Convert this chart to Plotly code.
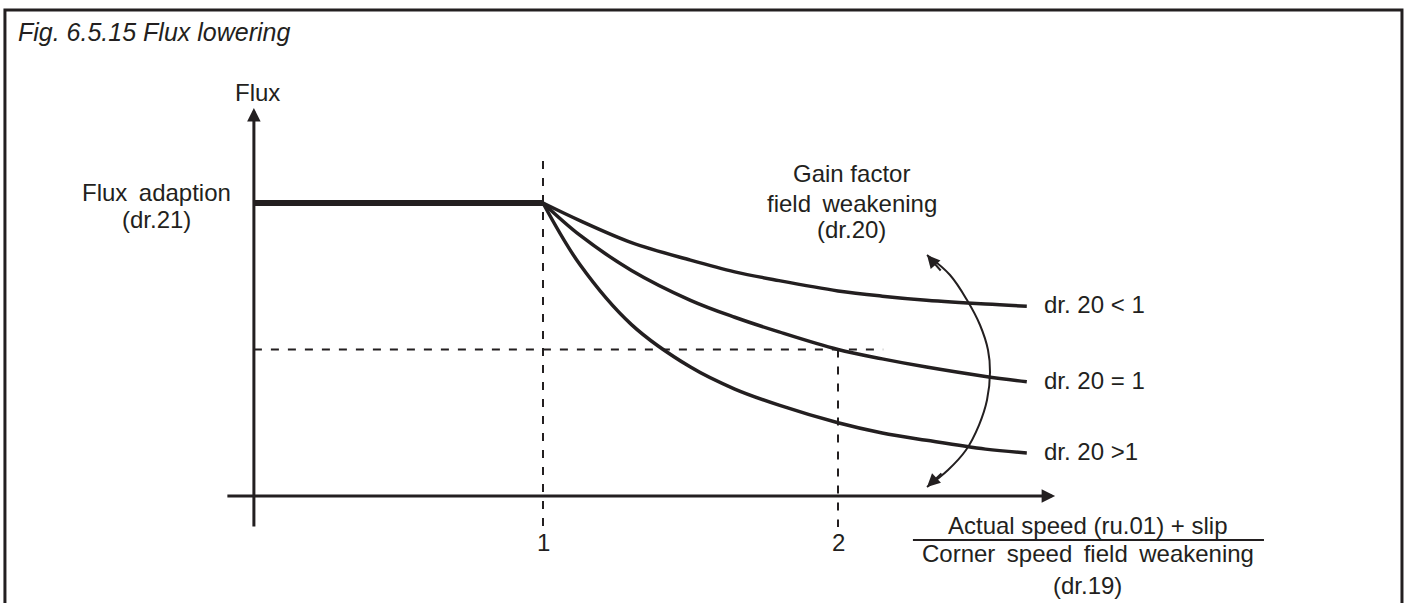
import plotly.graph_objects as go

# ---------------- data (ratio units: x = speed ratio, y = flux relative to dr.21) ----------------
speed_ratio = [1.0, 1.125, 1.3, 1.5, 1.65, 1.8, 2.0, 2.15, 2.3, 2.5, 2.64]
flux_gain_lt1 = [1.0, 0.94, 0.865, 0.805, 0.765, 0.735, 0.70, 0.682, 0.668, 0.655, 0.648]
flux_gain_eq1 = [1.0, 0.89, 0.77, 0.668, 0.61, 0.56, 0.50, 0.468, 0.44, 0.408, 0.39]
flux_gain_gt1 = [1.0, 0.79, 0.585, 0.44, 0.365, 0.31, 0.25, 0.215, 0.19, 0.16, 0.147]
curve_labels = ["dr. 20 < 1", "dr. 20 = 1", "dr. 20 >1"]

flat_x = [0.02, 1.0]
flat_y = [1.0, 1.0]

tick_values = [1, 2]
tick_labels = ["1", "2"]

ref_flux = 0.5  # dashed reading level

# double-headed "gain factor" arrow path
gain_arrow_x = [2.3017, 2.3797, 2.4373, 2.4814, 2.5085, 2.5153, 2.5051, 2.4780, 2.4339, 2.3729, 2.3017]
gain_arrow_y = [0.8225, 0.7543, 0.6689, 0.5836, 0.4983, 0.4232, 0.3276, 0.2423, 0.1570, 0.0887, 0.0307]

INK = "#231f20"
FONT = "Liberation Sans, Arial, Helvetica, sans-serif"
SP = " \u2009"  # slightly wider word space, as in the reference lettering

X_RANGE = [-0.84068, 3.94576]
Y_RANGE = [-0.36519, 1.69283]

fig = go.Figure()

# flat part (flux adaption)
fig.add_trace(go.Scatter(x=flat_x, y=flat_y, mode="lines",
                         line=dict(color=INK, width=6), showlegend=False, hoverinfo="skip"))

# three field-weakening curves
for ys, name in zip([flux_gain_lt1, flux_gain_eq1, flux_gain_gt1], curve_labels):
    fig.add_trace(go.Scatter(x=speed_ratio, y=ys, mode="lines", name=name,
                             line=dict(color=INK, width=3.5, shape="spline", smoothing=1.0),
                             showlegend=False))

# dashed guide lines
dash = "8px,9px"
fig.add_trace(go.Scatter(x=[tick_values[0], tick_values[0]], y=[1.143, -0.106], mode="lines",
                         line=dict(color=INK, width=2, dash=dash), showlegend=False, hoverinfo="skip"))
fig.add_trace(go.Scatter(x=[tick_values[1], tick_values[1]], y=[ref_flux, -0.106], mode="lines",
                         line=dict(color=INK, width=2, dash=dash), showlegend=False, hoverinfo="skip"))
fig.add_trace(go.Scatter(x=[0.02, 2.153], y=[ref_flux, ref_flux], mode="lines",
                         line=dict(color=INK, width=2, dash=dash), showlegend=False, hoverinfo="skip"))

# gain-factor double arrow (curve)
fig.add_trace(go.Scatter(x=gain_arrow_x, y=gain_arrow_y, mode="lines",
                         line=dict(color=INK, width=2, shape="spline", smoothing=1.0),
                         showlegend=False, hoverinfo="skip"))

annotations = []
# axes with arrowheads
annotations.append(dict(x=0.02, y=1.324, ax=0.02, ay=-0.109, xref="x", yref="y", axref="x", ayref="y",
                        text="", showarrow=True, arrowhead=2, arrowwidth=3, arrowsize=0.9, arrowcolor=INK))
annotations.append(dict(x=2.736, y=0.0, ax=-0.075, ay=0.0, xref="x", yref="y", axref="x", ayref="y",
                        text="", showarrow=True, arrowhead=2, arrowwidth=3, arrowsize=0.9, arrowcolor=INK))
# gain arrow heads
annotations.append(dict(x=gain_arrow_x[0], y=gain_arrow_y[0], ax=15, ay=17, xref="x", yref="y",
                        text="", showarrow=True, arrowhead=2, arrowwidth=2, arrowsize=1.3, arrowcolor=INK))
annotations.append(dict(x=gain_arrow_x[-1], y=gain_arrow_y[-1], ax=16, ay=-15, xref="x", yref="y",
                        text="", showarrow=True, arrowhead=2, arrowwidth=2, arrowsize=1.3, arrowcolor=INK))

def label(text, x, y, xanchor="center", size=24, italic=False):
    if italic:
        text = "<i>" + text + "</i>"
    annotations.append(dict(x=x, y=y, xref="x", yref="y", text=text, showarrow=False,
                            xanchor=xanchor, yanchor="middle",
                            font=dict(family=FONT, size=size, color=INK)))

label("Fig. 6.5.15 Flux lowering", -0.786, 1.5836, xanchor="left", size=25, italic=True)
label("Flux", 0.0305, 1.3788)
label("Flux" + SP + "adaption", -0.3085, 1.0375)
label("(dr.21)", -0.3085, 0.942)
for tv, tl in zip(tick_values, tick_labels):
    label(tl, tv, -0.158)
label("Gain factor", 2.047, 1.1024)
label("field" + SP + "weakening", 2.047, 1.0)
label("(dr.20)", 2.047, 0.908)
for txt, yy in zip(curve_labels, [flux_gain_lt1[-1], flux_gain_eq1[-1], flux_gain_gt1[-1]]):
    label(txt, 2.69, yy + 0.005, xanchor="left")
label("Actual speed (ru.01) + slip", 2.847, -0.099)
label("Corner" + SP + "speed" + SP + "field" + SP + "weakening", 2.847, -0.195)
label("(dr.19)", 2.847, -0.304)

shapes = [
    # fraction bar
    dict(type="line", xref="x", yref="y", x0=2.254, x1=3.444, y0=-0.150, y1=-0.150,
         line=dict(color=INK, width=2)),
    # outer frame (open at the bottom)
    dict(type="path", xref="paper", yref="paper",
         path="M 0.0035,-0.05 L 0.0035,0.9834 L 0.9929,0.9834 L 0.9929,-0.05",
         line=dict(color=INK, width=3)),
]

fig.update_layout(
    width=1412, height=603,
    margin=dict(l=0, r=0, t=0, b=0),
    paper_bgcolor="white", plot_bgcolor="white",
    xaxis=dict(range=X_RANGE, visible=False, fixedrange=True),
    yaxis=dict(range=Y_RANGE, visible=False, fixedrange=True),
    annotations=annotations, shapes=shapes,
    showlegend=False,
)

fig.write_html("out.html", config={"displayModeBar": False},
               post_script="document.body.style.margin='0';")
